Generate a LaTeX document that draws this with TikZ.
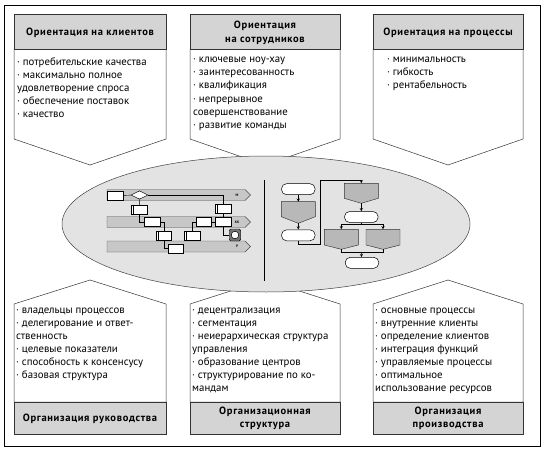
\documentclass[tikz,border=0pt]{standalone}
\usepackage{fontspec}
\setmainfont{PT Sans}
\newfontfamily\headfont[LetterSpace=6.5]{PT Sans}
\usetikzlibrary{shapes.geometric}

\begin{document}
\begin{tikzpicture}[x=1pt,y=-1pt,>=stealth,
    outer/.style={draw,line width=0.8pt},
    box/.style={draw=black!80,line width=0.5pt,fill=white},
    head/.style={draw=black!80,line width=0.5pt,fill=black!17},
    headtext/.style={font=\headfont\bfseries\fontsize{10.5}{13.5}\selectfont,align=center,inner sep=0pt},
    list/.style={font=\fontsize{10.8}{13.1}\selectfont,align=left,anchor=north west,inner sep=0pt,execute at begin node=\strut},
    oval/.style={draw=black!75,line width=0.5pt,fill=black!11},
    lane/.style={draw=black!70,line width=0.4pt,fill=black!22},
    lbl/.style={font=\bfseries\fontsize{3.5}{4}\selectfont,inner sep=0pt},
    pbox/.style={draw,line width=0.5pt,fill=white,inner sep=0pt,minimum width=15.5pt,minimum height=9pt},
    dbox/.style={pbox,path picture={\draw[line width=0.4pt] ([xshift=1.8pt]path picture bounding box.north west) -- ([xshift=1.8pt]path picture bounding box.south west);}},
    dia/.style={draw,line width=0.5pt,fill=white,shape=diamond,aspect=2,minimum width=17pt,minimum height=8.5pt,inner sep=0pt},
    stopbox/.style={draw,fill=black!55,rounded corners=1.5pt,minimum width=11.5pt,minimum height=12pt,inner sep=0pt,
      path picture={\draw[fill=white,line width=0.5pt] (path picture bounding box.center) circle [radius=3.8pt];}},
    term/.style={draw,line width=0.5pt,fill=white,rounded corners=5pt,inner sep=0pt,minimum width=33.5pt,minimum height=11pt},
    gshape/.style={draw=black!80,line width=0.45pt,fill=black!28},
    conn/.style={draw,line width=0.45pt},
    arr/.style={conn,->}]
  \useasboundingbox (0,0) rectangle (545,449);
  \draw[outer] (4,5) rectangle (540,446);
  % upper row
  \foreach \xl/\xr/\xt/\hd/\items [count=\i] in {
      14/166/17/{Ориентация на клиентов}/{· потребительские качества\\· максимально полное\\удовлетворение спроса\\· обеспечение поставок\\· качество},
      190/340/193/{Ориентация\\на сотрудников}/{· ключевые ноу-хау\\· заинтересованность\\· квалификация\\· непрерывное\\совершенствование\\· развитие команды},
      373/523/387/{Ориентация на процессы}/{· минимальность\\· гибкость\\· рентабельность}} {
    \pgfmathsetmacro\xc{(\xl+\xr)/2}
    \draw[box] (\xl,49) -- (\xr,49) -- (\xr,139) -- (\xc,165) -- (\xl,139) -- cycle;
    \draw[head] (\xl,14) rectangle (\xr,49);
    \node[headtext] (top\i) at (\xc,33) {\hd};
    \node[list] (topl\i) at (\xt,57) {\items};
  }
  % lower row
  \foreach \xl/\xr/\xt/\hd/\items [count=\i] in {
      14/166/16/{Организация руководства}/{· владельцы процессов\\· делегирование и ответ-\\ственность\\· целевые показатели\\· способность к консенсусу\\· базовая структура},
      190/340/192/{Организационная\\структура}/{· децентрализация\\· сегментация\\· неиерархическая структура\\управления\\· образование центров\\· структурирование по ко-\\мандам},
      373/523/375/{Организация\\производства}/{· основные процессы\\· внутренние клиенты\\· определение клиентов\\· интеграция функций\\· управляемые процессы\\· оптимальное\\использование ресурсов}} {
    \pgfmathsetmacro\xc{(\xl+\xr)/2}
    \draw[box] (\xl,304) -- (\xc,280) -- (\xr,304) -- (\xr,402) -- (\xl,402) -- cycle;
    \draw[head] (\xl,402) rectangle (\xr,434);
    \node[headtext] (bot\i) at (\xc,418.5) {\hd};
    \node[list] (botl\i) at (\xt,307.5) {\items};
  }
  % centre
  \draw[oval] (266,224) ellipse [x radius=204,y radius=68];
  \draw[line width=0.5pt] (264,180) -- (264,281);
  % swimlanes
  \foreach \yc/\lb [count=\i] in {195/М,222/КК,246.5/Р} {
    \draw[lane] (107,\yc-5.5) -- (245,\yc-5.5) -- (250.5,\yc) -- (245,\yc+5.5) -- (107,\yc+5.5) -- cycle;
    \node[lbl] (lane\i) at (237,\yc) {\lb};
  }
  \foreach \n/\x/\y/\s in {s1/115/195.5/pbox, p1/139.2/209.6/dbox, p2/152.2/222/pbox, p3/163.8/235.5/dbox,
      p4/175.8/248.3/pbox, p5/223.4/208.8/dbox, p6/223.4/222/pbox, p7/203.9/222/pbox, p8/192.2/235.5/dbox}
    \node[\s] (\n) at (\x,\y) {};
  \node[dia] (d1) at (139.5,195) {};
  \node[stopbox] (e1) at (235,235) {};
  \draw[conn] (s1) -- (d1);
  \draw[conn] (d1) -| (p5);
  \draw[conn] (d1) -- (p1);
  \draw[conn] (p1) |- (p2);
  \draw[conn] (p2) -| (p3);
  \draw[conn] (p3) |- (p4);
  \draw[conn] (p5) -- (p6);
  \draw[conn] (p6) -- (p7);
  \draw[conn] (p7) -| (p8);
  \draw[conn] (p6) |- (e1);
  % flowchart
  \foreach \n/\x/\y in {r1/298.3/189.2, r2/298.3/235.3, r3/361.3/217, r4/362/262.8}
    \node[term] (\n) at (\x,\y) {};
  \foreach \n/\x/\yt/\ys/\yb in {g1/298.3/201.7/216.7/223.3, g2/361.3/183.3/198.3/203.3,
      g3/341.3/229.3/245/249.3, g4/383/229.3/245/249.3} {
    \draw[gshape] (\x-17,\yt) -- (\x+17,\yt) -- (\x+17,\ys) -- (\x,\yb) -- (\x-17,\ys) -- cycle;
    \coordinate (\n-t) at (\x,\yt);
    \coordinate (\n-b) at (\x,\yb);
  }
  \coordinate (k1) at (320,244);
  \coordinate (k2) at (320,180);
  \coordinate (k3) at (361.3,224.3);
  \coordinate (k4) at (361.3,252.3);
  \draw[arr] (r1) -- (g1-t);
  \draw[arr] (g1-b) -- (r2);
  \draw[arr] (r2) |- (k1) -- (k2) -| (g2-t);
  \draw[arr] (g2-b) -- (r3);
  \draw[conn] (r3) -- (k3);
  \draw[arr] (k3) -| (g3-t);
  \draw[arr] (k3) -| (g4-t);
  \draw[conn] (g3-b) |- (k4) -| (g4-b);
  \draw[arr] (k4) -- (r4);
\end{tikzpicture}
\end{document}
